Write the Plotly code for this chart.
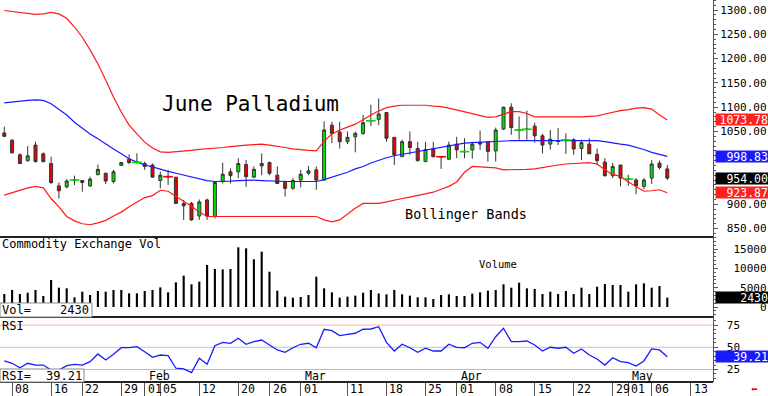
import plotly.graph_objects as go

# ---------------- data (trading days Jan 5 .. May 8, index 0..85) ----------------
opens = [1047, 1032, 1002, 990, 1022, 1004, 984, 938, 936, 949.5,
         949, 938, 961, 964, 947, 980, 993, 986, 984, 981,
         949, 957.5, 956, 902, 902, 876, 909, 875, 947, 967,
         967, 982, 956, 979, 986, 960, 945, 933, 950, 964,
         971, 950, 1063, 1049, 1029, 1039, 1046, 1071.5, 1075, 1089,
         1038, 998, 1029, 1015, 988, 1015, 998.5, 993, 1024, 1008,
         1012, 1028, 1029, 1010, 1055, 1100, 1052.5, 1054, 1061, 1041,
         1024, 1029.5, 1032, 1033, 1015, 1024, 1003, 987, 959, 981,
         951.5, 950, 937, 954, 985, 973]
highs = [1060, 1034, 1005, 1020, 1029, 1007, 998, 945, 952, 959,
         950, 957, 982, 965, 971, 987, 1003, 1005, 988, 984,
         967, 971, 956, 909, 905, 910, 912, 947, 986, 974,
         995, 991, 978, 1005, 988, 978, 949, 954, 971, 979,
         978, 1071, 1070, 1070, 1050, 1050, 1084, 1105, 1118, 1089,
         1038, 1033, 1050, 1029, 1029, 1029, 998.5, 1029, 1039, 1036,
         1029, 1052, 1029, 1058, 1101, 1108, 1081, 1093, 1068, 1045,
         1053, 1057, 1046, 1036, 1033, 1036, 1015, 995, 985, 981,
         961, 954, 954, 991, 990, 981]
lows = [1039, 1005, 983, 988, 986, 986, 942, 912, 933, 940,
        926, 936, 960, 942, 943, 979, 983, 984, 971, 955,
        933, 940, 901, 868, 866, 868, 868, 871, 943, 943,
        954, 936, 954, 960, 960, 942, 916, 930, 935, 960,
        930, 949, 1026, 1015, 1024, 1007, 1043, 1061, 1063, 1029,
        981, 998, 1002, 988, 988, 997, 973, 992, 995, 995,
        994, 1012, 988, 988, 1053, 1043, 1033, 1033, 1027, 1005,
        1013, 1022, 1004, 1002, 991, 1004, 981, 957, 954, 937,
        938, 921, 931, 942, 972, 950]
closes = [1040, 1006, 984, 1000, 988, 988, 945, 928, 948, 950.5,
          945, 952, 972, 948, 967, 986, 986, 987, 978, 956,
          960, 956.5, 902, 897, 868, 905, 876, 945, 962, 959,
          984, 957, 972, 984, 964, 943, 933, 949, 962, 969,
          950, 1053, 1046, 1029, 1038, 1046, 1068, 1072.5, 1086, 1036,
          1002, 1029, 1017, 990, 1013, 998, 997.5, 1022, 1012, 1009,
          1024, 1024, 1009, 1053, 1100, 1058, 1053.5, 1055, 1041, 1022,
          1034, 1029.5, 1033, 1014, 1027, 1004, 990, 959, 978, 954,
          952.5, 938, 950, 983, 976, 954.00]

bb_upper = [1299, 1297, 1294, 1292, 1291, 1292, 1295, 1292, 1283, 1265,
            1244, 1218, 1189, 1156, 1121, 1090, 1063, 1045, 1028, 1016,
            1008, 1007, 1008, 1009, 1011, 1013, 1014, 1016, 1017, 1019,
            1021, 1022, 1023, 1024, 1022, 1020, 1017, 1014, 1012, 1011,
            1010, 1030, 1045, 1053, 1059, 1065, 1074, 1084, 1092, 1099,
            1102, 1104, 1104, 1104, 1104, 1102, 1101, 1098, 1094, 1090,
            1087, 1083, 1079, 1080, 1086, 1091, 1091, 1087, 1080, 1080,
            1079, 1079, 1079, 1080, 1080, 1081, 1082, 1086, 1090, 1093,
            1095, 1098, 1099, 1096, 1084, 1073.78]
bb_middle = [1109, 1111, 1113, 1114, 1115, 1114, 1107, 1096, 1084, 1069,
             1057, 1045, 1035, 1024, 1014, 1004, 994, 987, 981, 977,
             972, 968, 964, 960, 957, 952, 949, 947, 947, 948,
             949, 950, 950, 949, 948, 947, 947, 947, 947, 947,
             947, 951, 956, 960, 966, 973, 978, 985, 991, 996,
             1000, 1003, 1005, 1008, 1011, 1014, 1018, 1021, 1024, 1026,
             1027, 1028, 1029, 1029, 1030, 1031, 1031, 1031, 1031, 1031,
             1031, 1031, 1031, 1031, 1031, 1031, 1031, 1029, 1026, 1024,
             1022, 1018, 1013, 1007, 1003, 998.83]
bb_lower = [919, 924, 930, 934, 937, 934, 912, 895, 875, 866,
            860, 858, 862, 867, 876, 884, 895, 905, 914, 918,
            929, 927, 917, 907, 896, 884, 875, 875, 875, 875,
            875, 875, 875, 875, 875, 875, 875, 875, 875, 875,
            875, 868, 864, 868, 880, 892, 902, 902, 902, 905,
            909, 912, 915, 918, 922, 925, 931, 937, 946, 966,
            978, 977, 976, 975, 971, 971, 971, 972, 973, 976,
            978, 981, 983, 984, 985, 986, 983, 971, 961, 958,
            946, 936, 927, 928, 930, 923.87]

volume = [3370, 4400, 3370, 3710, 4400, 2850, 6990, 5000, 4840, 2510,
          3970, 3110, 4140, 3970, 4400, 4400, 3540, 3540, 4140, 4400,
          5090, 3800, 6390, 8120, 5870, 6560, 10880, 9840, 9750, 9840,
          15460, 15200, 12350, 14330, 9140, 4230, 2680, 2420, 2590, 3110,
          7850, 4840, 3800, 2420, 2680, 2940, 3710, 4400, 3500, 3280,
          4400, 3280, 2940, 2510, 2510, 2070, 3110, 3280, 2850, 2850,
          3460, 3800, 4230, 4400, 5870, 5000, 6300, 4840, 4660, 3370,
          3970, 3370, 4140, 3370, 5000, 3370, 5260, 5960, 5700, 5700,
          3970, 5870, 6130, 5000, 5440, 2430]

rsi = [34.6, 32, 27, 32, 30, 30, 24.4, 24.4, 29.3, 30.8,
       30, 33.8, 42.5, 35.7, 42.1, 49.5, 49.5, 50.7, 45, 38.7,
       41.3, 40.5, 26.4, 25.6, 21.4, 37.6, 30.8, 51.8, 55.6, 54.5,
       60.1, 53.4, 56.3, 58.2, 52.6, 47, 44.4, 49.5, 53.4, 54.5,
       49.5, 70.3, 68.7, 63.1, 64.6, 65.8, 70.3, 70.6, 73.2, 55.6,
       45.8, 53.4, 49.5, 44.4, 48.9, 45.8, 45.8, 53.4, 50, 49.5,
       54.5, 55.6, 48.9, 61.9, 71.4, 56.3, 56.3, 57.1, 52.6, 45.8,
       50, 48.9, 50, 43.2, 48.1, 41.3, 36.8, 30, 38.3, 33.8,
       32.7, 28.9, 34.6, 48.1, 47, 39.21]

# x-axis day ticks (trading-day index) and labels
tick_idx = [1, 6, 10, 15, 18, 20, 25, 30, 34, 38, 44, 49, 54, 58, 63, 68, 73, 78, 80, 83, 88]
tick_lbl = ["08", "16", "22", "29", "01", "05", "12", "20", "26", "01", "11",
            "18", "25", "01", "08", "15", "22", "29", "01", "06", "13"]
month_idx = [18, 38, 58, 80]
month_lbl = ["Feb", "Mar", "Apr", "May"]

# price ticks (950 and 1000 labels are covered by the value boxes in the reference)
price_ticks = [850, 900, 950, 1000, 1050, 1100, 1150, 1200, 1250, 1300]
price_hidden = [950, 1000]
vol_ticks = [0, 5000, 10000, 15000]
rsi_ticks = [25, 50, 75]

# ---------------- figure ----------------
FONT = "DejaVu Sans Mono"
NB = "\u00a0"
W, H = 768, 396
ML, MR, MT, MB = 0, 55, 0, 14
PH = H - MT - MB  # plot height in px


def py(pix):
    """pixel row (from top of plot area) -> paper y"""
    return (PH - pix) / PH


x = list(range(len(closes)))
fig = go.Figure()

# Bollinger bands
fig.add_trace(go.Scatter(x=x, y=bb_upper, mode="lines", line=dict(color="#ff1a1a", width=1.2), xaxis="x", yaxis="y"))
fig.add_trace(go.Scatter(x=x, y=bb_lower, mode="lines", line=dict(color="#ff1a1a", width=1.2), xaxis="x", yaxis="y"))
fig.add_trace(go.Scatter(x=x, y=bb_middle, mode="lines", line=dict(color="#1a1aff", width=1.2), xaxis="x", yaxis="y"))

# candles
fig.add_trace(go.Candlestick(
    x=x, open=opens, high=highs, low=lows, close=closes,
    increasing=dict(fillcolor="#00e000", line=dict(color="#333333", width=1)),
    decreasing=dict(fillcolor="#ee0000", line=dict(color="#333333", width=1)),
    whiskerwidth=0, xaxis="x", yaxis="y"))

# doji dashes
dx, dy, dc = [], [], []
for i, (o, c) in enumerate(zip(opens, closes)):
    if 0 < abs(c - o) <= 1.5:
        dx.append(i)
        dy.append((o + c) / 2)
        dc.append("#00dd00" if c > o else "#ff0000")
fig.add_trace(go.Scatter(x=dx, y=dy, mode="markers",
                         marker=dict(symbol="line-ew", size=7, line=dict(color=dc, width=1.6)),
                         xaxis="x", yaxis="y"))

# volume
fig.add_trace(go.Bar(x=x, y=volume, width=0.27, marker=dict(color="#000000", line=dict(width=0)),
                     xaxis="x", yaxis="y2"))

# RSI
fig.add_trace(go.Scatter(x=x, y=rsi, mode="lines", line=dict(color="#1a1aff", width=1.3), xaxis="x", yaxis="y3"))

d_price = [py(237), 1.0]
d_vol = [py(317), py(237)]
d_rsi = [0.0, py(317)]

axis_common = dict(side="right", anchor="x", showgrid=False, zeroline=False,
                   showline=True, linecolor="#555555", linewidth=1,
                   ticks="outside", ticklen=4, tickcolor="#555555",
                   tickfont=dict(family=FONT, size=11, color="#000000"))

fig.update_layout(
    width=W, height=H,
    margin=dict(l=ML, r=MR, t=MT, b=MB, pad=0),
    paper_bgcolor="white", plot_bgcolor="white",
    showlegend=False, hovermode=False,
    boxgap=0.45,
    font=dict(family=FONT, size=11, color="#000"),
    xaxis=dict(range=[-0.551, 90.86], anchor="y3", showgrid=False, zeroline=False,
               showline=False, ticks="outside", ticklen=14, tickwidth=1, tickcolor="#555555",
               tickvals=tick_idx, showticklabels=False, rangeslider=dict(visible=False)),
    yaxis=dict(domain=d_price, range=[832.8, 1320.6], tickvals=price_ticks,
               ticktext=["" if v in price_hidden else f"{v:.2f}".rjust(7, NB) for v in price_ticks],
               minor=dict(ticks="outside", ticklen=2, dtick=10, tickcolor="#555555"),
               **axis_common),
    yaxis2=dict(domain=d_vol, range=[-2590, 18130], tickvals=vol_ticks,
                ticktext=[f"{v}".rjust(7, NB) for v in vol_ticks],
                minor=dict(ticks="outside", ticklen=2, dtick=1000, tickcolor="#555555"),
                **axis_common),
    yaxis3=dict(domain=d_rsi, range=[10.9, 84.1], tickvals=rsi_ticks,
                ticktext=[NB + f"{v}" for v in rsi_ticks],
                minor=dict(ticks="outside", ticklen=2, dtick=5, tickcolor="#555555"),
                **axis_common),
)

shapes = []
# panel separators
for yy in [py(237), py(317), 0.0]:
    shapes.append(dict(type="line", xref="paper", yref="paper", x0=0, x1=1, y0=yy, y1=yy,
                       line=dict(color="#222222", width=2), layer="above"))
# RSI guide lines
for lvl, col in [(75, "#ffb0b0"), (50, "#c4c4c4"), (25, "#b0b0ff")]:
    shapes.append(dict(type="line", xref="paper", yref="y3", x0=0, x1=1, y0=lvl, y1=lvl,
                       line=dict(color=col, width=1), layer="below"))
# Vol= and RSI= boxes
shapes.append(dict(type="rect", xref="paper", yref="paper", x0=0, x1=92 / 713, y0=py(317), y1=py(303),
                   fillcolor="white", line=dict(color="#888888", width=1), layer="above"))
shapes.append(dict(type="rect", xref="paper", yref="paper", x0=0, x1=84 / 713, y0=0, y1=py(369),
                   fillcolor="white", line=dict(color="#888888", width=1), layer="above"))

ann = []


def text(xp, yp, s, size=11, color="#000", xanchor="left", **kw):
    ann.append(dict(xref="paper", yref="paper", x=xp, y=yp, text=s, showarrow=False,
                    xanchor=xanchor, yanchor="middle",
                    font=dict(family=FONT, size=size, color=color), **kw))


text(160 / 713, py(104), "June Palladium", size=21)
text(403 / 713, py(214), "Bollinger Bands", size=13.5)
text(0, py(244), "Commodity Exchange Vol", size=12)
text(477 / 713, py(264), "Volume", size=10.5)
text(0, py(326), "RSI", size=12)
text(0, py(310), "Vol=", size=12)
text(91 / 713, py(310), f"{volume[-1]}", size=12, xanchor="right")
text(0, py(375.5), "RSI=", size=12)
text(84 / 713, py(375.5), f"{rsi[-1]:.2f}", size=12, xanchor="right")

# right-side value boxes
for val, yref, bg in [(bb_upper[-1], "y", "#ff2020"), (bb_middle[-1], "y", "#1a1aff"),
                      (closes[-1], "y", "#000000"), (bb_lower[-1], "y", "#ff2020"),
                      (volume[-1], "y2", "#000000"), (rsi[-1], "y3", "#1a1aff")]:
    s = f"{val:.2f}" if yref != "y2" else f"{val}"
    ann.append(dict(xref="paper", yref=yref, x=1, y=val, xanchor="left", yanchor="middle",
                    xshift=2, text=s, showarrow=False, bgcolor=bg, borderpad=0, width=52, height=11,
                    align="right", font=dict(family=FONT, size=11.5, color="white")))

# day labels under x-axis
for ti, tl in zip(tick_idx, tick_lbl):
    ann.append(dict(xref="x", yref="paper", x=ti, y=-7 / PH, xanchor="left", yanchor="middle",
                    xshift=1, text=tl, showarrow=False, font=dict(family=FONT, size=11.5, color="#000")))
# month labels
for mi, ml in zip(month_idx, month_lbl):
    ann.append(dict(xref="x", yref="paper", x=mi, y=py(376), xanchor="left", yanchor="middle",
                    xshift=2, text=ml, showarrow=False, font=dict(family=FONT, size=11.5, color="#000")))
# red arrow
text(749 / 713, -7 / PH, "\u2b05", size=11, color="#ee0000")

fig.update_layout(shapes=shapes, annotations=ann)
fig.write_html("out.html", config={"displayModeBar": False},
               post_script="document.body.style.margin='0';")
